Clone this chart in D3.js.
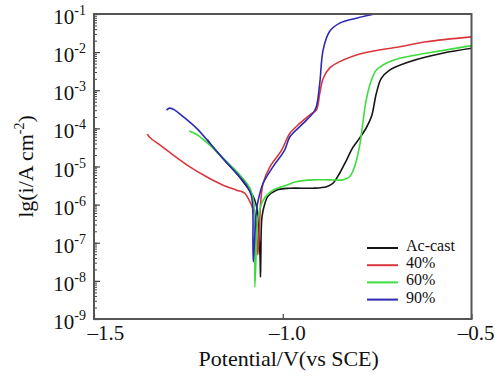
<!DOCTYPE html>
<html lang="en">
<head>
<meta charset="UTF-8">
<title>Polarization curves</title>
<style>
  body { margin: 0; background: #fff; }
  svg text { font-family: "Liberation Serif", "DejaVu Serif", serif; fill: #111; }
</style>
</head>
<body>
<div id="chart"></div>
<script src="https://cdn.jsdelivr.net/npm/d3@7"></script>
<script>
// series names and colours
var seriesNames = ["Ac-cast", "40%", "60%", "90%"];
var seriesColors = ["#151515", "#d9363e", "#3fdc3f", "#2b2bb5"];

// potential (V vs SCE) and lg(i)
var acCastE = [-1.200,-1.188,-1.167,-1.140,-1.114,-1.093,-1.079,-1.071,-1.066,-1.063,-1.060,-1.059,-1.058,-1.055,-1.047,-1.040,-1.017,-0.981,-0.921,-0.884,-0.867,-0.849,-0.831,-0.815,-0.796,-0.779,-0.765,-0.752,-0.739,-0.717,-0.664,-0.577,-0.500];
var acCastLgI = [-4.29,-4.46,-4.70,-4.99,-5.28,-5.56,-5.77,-5.98,-6.27,-6.80,-7.40,-7.90,-7.32,-6.32,-5.96,-5.79,-5.62,-5.57,-5.57,-5.53,-5.44,-5.17,-4.83,-4.51,-4.25,-3.99,-3.69,-3.08,-2.69,-2.47,-2.25,-2.03,-1.90];

var p40E = [-1.359,-1.352,-1.325,-1.290,-1.246,-1.202,-1.158,-1.122,-1.101,-1.092,-1.083,-1.074,-1.069,-1.066,-1.062,-1.058,-1.052,-1.034,-1.003,-0.981,-0.955,-0.929,-0.911,-0.902,-0.893,-0.876,-0.849,-0.788,-0.690,-0.620,-0.500];
var p40LgI = [-4.15,-4.24,-4.44,-4.70,-5.01,-5.27,-5.49,-5.62,-5.70,-5.83,-6.01,-6.27,-6.70,-7.32,-6.60,-5.88,-5.44,-5.01,-4.57,-4.13,-3.87,-3.65,-3.52,-3.08,-2.69,-2.42,-2.25,-2.03,-1.86,-1.73,-1.60];

var p60E = [-1.248,-1.228,-1.193,-1.149,-1.114,-1.087,-1.077,-1.074,-1.074,-1.071,-1.069,-1.065,-1.052,-1.026,-0.990,-0.964,-0.920,-0.876,-0.841,-0.823,-0.810,-0.796,-0.788,-0.779,-0.765,-0.752,-0.726,-0.690,-0.620,-0.500];
var p60LgI = [-4.07,-4.16,-4.44,-4.87,-5.22,-5.57,-5.92,-6.67,-8.16,-7.45,-6.80,-6.32,-5.88,-5.62,-5.49,-5.40,-5.35,-5.35,-5.35,-5.27,-5.01,-4.44,-3.87,-3.26,-2.73,-2.47,-2.29,-2.16,-2.03,-1.83];

var p90E = [-1.308,-1.299,-1.286,-1.264,-1.228,-1.193,-1.158,-1.122,-1.096,-1.083,-1.079,-1.079,-1.078,-1.074,-1.070,-1.065,-1.052,-1.026,-0.995,-0.981,-0.946,-0.920,-0.911,-0.902,-0.893,-0.876,-0.849,-0.805,-0.757];
var p90LgI = [-3.52,-3.47,-3.52,-3.69,-4.00,-4.39,-4.79,-5.18,-5.49,-5.77,-6.27,-6.93,-7.50,-6.80,-6.19,-5.88,-5.44,-5.01,-4.57,-4.22,-3.87,-3.60,-3.43,-2.82,-1.94,-1.46,-1.24,-1.11,-1.00];

// axis ticks
var xTicks = [-1.5, -1.0, -0.5];
var yTickExps = [-9, -8, -7, -6, -5, -4, -3, -2, -1];

var allE = [acCastE, p40E, p60E, p90E];
var allLgI = [acCastLgI, p40LgI, p60LgI, p90LgI];

var W = 495, H = 376;
var plot = {left: 94, right: 471.5, top: 14, bottom: 319};

var svg = d3.select("#chart").append("svg")
    .attr("width", W)
    .attr("height", H);

var x = d3.scaleLinear().domain([-1.5, -0.5]).range([plot.left, plot.right]);
var y = d3.scaleLog().domain([1e-9, 1e-1]).range([plot.bottom, plot.top]);

svg.append("clipPath").attr("id", "plotclip")
  .append("rect")
    .attr("x", plot.left).attr("y", plot.top)
    .attr("width", plot.right - plot.left).attr("height", plot.bottom - plot.top);

// minor y ticks (inside)
svg.append("g")
    .attr("transform", "translate(" + plot.left + ",0)")
    .call(d3.axisLeft(y).tickValues(y.ticks()).tickSize(-3).tickFormat(""))
    .call(function(g) { g.select(".domain").remove(); })
    .selectAll("line").attr("stroke", "#444");

// major y ticks
svg.append("g")
    .attr("transform", "translate(" + plot.left + ",0)")
    .call(d3.axisLeft(y).tickValues(yTickExps.map(function(k) { return Math.pow(10, k); })).tickSize(-6).tickFormat(""))
    .call(function(g) { g.select(".domain").remove(); })
    .selectAll("line").attr("stroke", "#444").attr("stroke-width", 1.2);

// y tick labels 10^k
var ylab = svg.append("g").selectAll("text")
  .data(yTickExps)
  .enter().append("text")
    .attr("x", 86)
    .attr("y", function(k) { return y(Math.pow(10, k)) + 10; })
    .attr("text-anchor", "end")
    .style("font-size", "21px");
ylab.append("tspan").text("10");
ylab.append("tspan")
    .attr("dy", -9)
    .style("font-size", "14px")
    .text(function(k) { return "-" + Math.abs(k); });

// x axis ticks and labels
var xg = svg.append("g")
    .attr("transform", "translate(0," + plot.bottom + ")")
    .call(d3.axisBottom(x).tickValues(xTicks).tickSize(-5)
      .tickFormat(function(d) { return "\u2013" + Math.abs(d).toFixed(1); }));
xg.select(".domain").remove();
xg.selectAll("line").attr("stroke", "#444").attr("stroke-width", 1.2);
xg.selectAll("text")
    .attr("y", 21).attr("dy", 0)
    .attr("dx", 4)
    .style("font-size", "21px")
    .style("font-family", "Liberation Serif, serif")
    .attr("fill", "#111");
xg.select(".tick text").attr("text-anchor", "start").attr("dx", -7);

// curves
var line = d3.line()
    .x(function(d) { return x(d[0]); })
    .y(function(d) { return y(Math.pow(10, d[1])); })
    .curve(d3.curveCatmullRom.alpha(0.5));

var curves = svg.append("g").attr("clip-path", "url(#plotclip)");
[0, 1, 2, 3].forEach(function(s) {
  var pts = allE[s].map(function(e, i) { return [e, allLgI[s][i]]; });
  curves.append("path")
    .datum(pts)
    .attr("fill", "none")
    .attr("stroke", seriesColors[s])
    .attr("stroke-width", 1.6)
    .attr("stroke-linejoin", "round")
    .attr("d", line);
});

// frame
svg.append("rect")
    .attr("x", plot.left).attr("y", plot.top)
    .attr("width", plot.right - plot.left).attr("height", plot.bottom - plot.top)
    .attr("fill", "none")
    .attr("stroke", "#555")
    .attr("stroke-width", 2);

// legend
var legend = svg.append("g").attr("transform", "translate(367,248)");
seriesNames.forEach(function(name, i) {
  var row = legend.append("g").attr("transform", "translate(0," + (i * 17.2) + ")");
  row.append("line")
    .attr("x1", 0).attr("x2", 31)
    .attr("stroke", seriesColors[i])
    .attr("stroke-width", 2);
  row.append("text")
    .attr("x", 39).attr("y", 3)
    .style("font-size", "16px")
    .text(name);
});

// axis titles
svg.append("text")
    .attr("x", (plot.left + plot.right) / 2 + 6)
    .attr("y", 366)
    .attr("text-anchor", "middle")
    .style("font-size", "22px")
    .text("Potential/V(vs SCE)");

var yt = svg.append("text")
    .attr("transform", "translate(33," + ((plot.top + plot.bottom) / 2) + ") rotate(-90)")
    .attr("text-anchor", "middle")
    .style("font-size", "22px");
yt.append("tspan").text("lg(i/A cm");
yt.append("tspan").attr("dy", -9).style("font-size", "14px").text("-2");
yt.append("tspan").attr("dy", 9).text(")");
</script>
</body>
</html>
